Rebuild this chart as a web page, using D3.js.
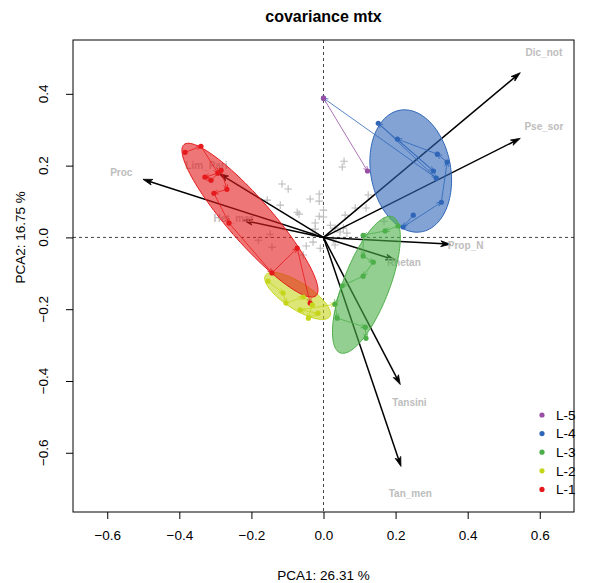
<!DOCTYPE html>
<html>
<head>
<meta charset="utf-8">
<script src="https://cdn.jsdelivr.net/npm/d3@7"></script>
<style>
  body { margin: 0; background: #fff; }
  svg { display: block; font-family: "Liberation Sans", Arial, Helvetica, sans-serif; }
</style>
</head>
<body>
<svg id="chart" width="593" height="583"></svg>
<script>
// ---- axis ticks ----
const xTicks = [-0.6, -0.4, -0.2, 0.0, 0.2, 0.4, 0.6];
const yTicks = [-0.6, -0.4, -0.2, 0.0, 0.2, 0.4];

// ---- variable loadings (arrow tips) ----
const varNames = ["Dic_not", "Pse_sor", "Prop_N", "Rhetan", "Tansini", "Tan_men", "Proc", "Lim_Pari", "Het_mar"];
const varX = [0.546, 0.546, 0.352, 0.199, 0.213, 0.215, -0.501, -0.290, -0.223];
const varY = [0.459, 0.276, -0.019, -0.063, -0.410, -0.638, 0.162, 0.178, 0.048];

// ---- remaining samples (grey crosses) ----
const otherX = [0.057, 0.052, -0.115, -0.098, -0.012, -0.037, -0.012, -0.120, -0.156, -0.073, -0.068, 0.000,
                -0.012, 0.000, -0.023, 0.019, -0.023, -0.031, 0.088, 0.118, 0.124, 0.046, -0.148, -0.181,
                -0.143, -0.029, 0.027, 0.032, 0.055, 0.032, 0.065, 0.168, -0.009, -0.056, 0.060, -0.048];
const otherY = [0.212, 0.196, 0.149, 0.135, 0.121, 0.107, 0.101, 0.090, 0.104, 0.070, 0.065, 0.076,
                0.059, 0.057, 0.040, 0.034, 0.023, 0.012, 0.082, 0.082, 0.118, 0.015, 0.009, -0.008,
                -0.027, -0.013, -0.007, 0.026, 0.026, -0.021, 0.012, 0.045, -0.030, -0.049, 0.062, -0.024];

// ---- groups ----
const groupNames = ["L-1", "L-2", "L-3", "L-4", "L-5"];
const groupColors = ["#E41A1C", "#C5D61A", "#4DAF4A", "#2F66B8", "#984EA3"];

const l1X = [-0.384, -0.340, -0.293, -0.329, -0.312, -0.284, -0.268, -0.304, -0.262, -0.143, -0.073, -0.037];
const l1Y = [0.237, 0.254, 0.179, 0.168, 0.159, 0.187, 0.134, 0.123, 0.040, -0.099, -0.030, -0.183];
const l2X = [-0.154, -0.112, -0.104, -0.056, -0.031, -0.042, -0.015, -0.065, 0.032];
const l2Y = [-0.122, -0.155, -0.183, -0.166, -0.188, -0.225, -0.211, -0.202, -0.186];
const l3X = [0.207, 0.171, 0.110, 0.110, 0.138, 0.110, 0.052, 0.032, 0.038, 0.116, 0.118];
const l3Y = [0.032, 0.018, 0.006, -0.052, -0.069, -0.108, -0.135, -0.186, -0.225, -0.250, -0.281];
const l4X = [0.249, 0.221, 0.327, 0.343, 0.316, 0.205, 0.305, 0.152, 0.313, 0.000];
const l4Y = [0.062, 0.029, 0.098, 0.210, 0.232, 0.274, 0.185, 0.318, 0.165, 0.388];
const l5X = [0.000, 0.122];
const l5Y = [0.388, 0.185];

// ellipse parameters per group: centre, semi-axes, rotation (degrees)
const ellCX = [-0.204, -0.072, 0.119, 0.242, null];
const ellCY = [0.048, -0.163, -0.132, 0.185, null];
const ellA  = [0.279, 0.106, 0.203, 0.172, null];
const ellB  = [0.061, 0.037, 0.064, 0.111, null];
const ellAngle = [-49, -33, 69, 100, null];

const groups = [
  { xs: l1X, ys: l1Y }, { xs: l2X, ys: l2Y }, { xs: l3X, ys: l3Y },
  { xs: l4X, ys: l4Y }, { xs: l5X, ys: l5Y }
].map((g, i) => ({ ...g, name: groupNames[i], color: groupColors[i],
  ell: ellCX[i] === null ? null : { cx: ellCX[i], cy: ellCY[i], a: ellA[i], b: ellB[i], ang: ellAngle[i] } }));

// ---- layout ----
const svg = d3.select("#chart");
const pLeft = 73, pRight = 574, pTop = 40, pBottom = 512;
const x = d3.scaleLinear().domain([-0.695, 0.695]).range([pLeft, pRight]);
const y = d3.scaleLinear().domain([-0.765, 0.55]).range([pBottom, pTop]);

svg.append("defs").append("clipPath").attr("id", "plotclip")
  .append("rect").attr("x", pLeft).attr("y", pTop).attr("width", pRight - pLeft).attr("height", pBottom - pTop);

const plot = svg.append("g").attr("clip-path", "url(#plotclip)");

// reference lines through the origin
plot.append("line").attr("x1", x(0)).attr("x2", x(0)).attr("y1", pTop).attr("y2", pBottom)
  .attr("stroke", "#444").attr("stroke-dasharray", "3,3").attr("stroke-width", 1);
plot.append("line").attr("x1", pLeft).attr("x2", pRight).attr("y1", y(0)).attr("y2", y(0))
  .attr("stroke", "#444").attr("stroke-dasharray", "3,3").attr("stroke-width", 1);

// grey crosses
const cs = 3.8;
plot.append("g").selectAll("path").data(d3.range(otherX.length)).join("path")
  .attr("d", i => {
    const px = x(otherX[i]), py = y(otherY[i]);
    return `M${px - cs},${py}H${px + cs}M${px},${py - cs}V${py + cs}`;
  })
  .attr("stroke", "#BBBBBB").attr("stroke-width", 1.1).attr("fill", "none");

// arrowhead helper (pixel coords)
function headPath(x1, y1, x2, y2, len, halfAngle) {
  const ang = Math.atan2(y2 - y1, x2 - x1);
  const a1 = ang + Math.PI - halfAngle, a2 = ang + Math.PI + halfAngle;
  return { p1: [x2 + len * Math.cos(a1), y2 + len * Math.sin(a1)],
           p2: [x2 + len * Math.cos(a2), y2 + len * Math.sin(a2)],
           back: [x2 - len * 0.7 * Math.cos(ang), y2 - len * 0.7 * Math.sin(ang)] };
}

// loading arrows
const arrows = plot.append("g");
varNames.forEach((name, i) => {
  const x1 = x(0), y1 = y(0), x2 = x(varX[i]), y2 = y(varY[i]);
  const h = headPath(x1, y1, x2, y2, 10, 0.3);
  arrows.append("line").attr("x1", x1).attr("y1", y1).attr("x2", h.back[0]).attr("y2", h.back[1])
    .attr("stroke", "#000").attr("stroke-width", 1.5);
  arrows.append("path")
    .attr("d", `M${x2},${y2}L${h.p1[0]},${h.p1[1]}L${h.back[0]},${h.back[1]}L${h.p2[0]},${h.p2[1]}Z`)
    .attr("fill", "#000").attr("stroke", "#000").attr("stroke-width", 0.8);
  arrows.append("text")
    .attr("x", x(varX[i] * 1.12)).attr("y", y(varY[i] * 1.12))
    .attr("dy", "0.35em").attr("text-anchor", "middle")
    .attr("font-size", 10).attr("font-weight", "bold").attr("fill", "#BDBDBD")
    .text(name);
});

// confidence ellipses, drawn from L-5 down to L-1
const ellLayer = plot.append("g");
groups.slice().reverse().forEach(g => {
  if (!g.ell) return;
  const e = g.ell, th = e.ang * Math.PI / 180;
  const pts = d3.range(0, 361, 3).map(t => {
    const r = t * Math.PI / 180;
    const u = e.a * Math.cos(r), v = e.b * Math.sin(r);
    return [x(e.cx + u * Math.cos(th) - v * Math.sin(th)), y(e.cy + u * Math.sin(th) + v * Math.cos(th))];
  });
  ellLayer.append("path").attr("d", d3.line()(pts) + "Z")
    .attr("fill", g.color).attr("fill-opacity", 0.6)
    .attr("stroke", g.color).attr("stroke-width", 1);
});

// trajectories between successive samples
const trajLayer = plot.append("g");
groups.forEach(g => {
  for (let i = 0; i + 1 < g.xs.length; i++) {
    const x1 = x(g.xs[i]), y1 = y(g.ys[i]), x2 = x(g.xs[i + 1]), y2 = y(g.ys[i + 1]);
    const h = headPath(x1, y1, x2, y2, 5, 0.45);
    trajLayer.append("path")
      .attr("d", `M${x1},${y1}L${x2},${y2}M${h.p1[0]},${h.p1[1]}L${x2},${y2}L${h.p2[0]},${h.p2[1]}`)
      .attr("stroke", g.color).attr("stroke-width", 0.8).attr("fill", "none");
  }
});

// sample points
const ptLayer = plot.append("g");
groups.forEach(g => {
  ptLayer.append("g").selectAll("circle").data(d3.range(g.xs.length)).join("circle")
    .attr("cx", i => x(g.xs[i])).attr("cy", i => y(g.ys[i])).attr("r", 2.6)
    .attr("fill", g.color);
});

// frame
svg.append("rect").attr("x", pLeft).attr("y", pTop).attr("width", pRight - pLeft).attr("height", pBottom - pTop)
  .attr("fill", "none").attr("stroke", "#000").attr("stroke-width", 1);

// x axis
const fmt = v => (v < 0 ? "\u2212" : "") + Math.abs(v).toFixed(1);
const xAxis = svg.append("g").attr("transform", `translate(0,${pBottom})`)
  .call(d3.axisBottom(x).tickValues(xTicks).tickSize(7).tickPadding(11).tickFormat(fmt));
xAxis.select(".domain").remove();
xAxis.selectAll("text").attr("font-size", 13.5).attr("font-family", null).attr("fill", "#000");
xAxis.selectAll("line").attr("stroke", "#000");

// y axis (labels parallel to the axis)
const yAxis = svg.append("g").attr("transform", `translate(${pLeft},0)`)
  .call(d3.axisLeft(y).tickValues(yTicks).tickSize(7).tickFormat(""));
yAxis.select(".domain").remove();
yAxis.selectAll("line").attr("stroke", "#000");
svg.append("g").selectAll("text").data(yTicks).join("text")
  .attr("transform", d => `translate(47.5,${y(d)}) rotate(-90)`)
  .attr("text-anchor", "middle").attr("font-size", 13.5).attr("fill", "#000")
  .text(fmt);

// titles
svg.append("text").attr("x", (pLeft + pRight) / 2).attr("y", 22).attr("text-anchor", "middle")
  .attr("font-size", 16).attr("font-weight", "bold").text("covariance mtx");
svg.append("text").attr("x", (pLeft + pRight) / 2).attr("y", 580).attr("text-anchor", "middle")
  .attr("font-size", 13.5).text("PCA1: 26.31 %");
svg.append("text").attr("transform", `translate(25,${y(0)}) rotate(-90)`).attr("text-anchor", "middle")
  .attr("font-size", 13.5).text("PCA2: 16.75 %");

// legend
const legend = svg.append("g");
groups.slice().reverse().forEach((g, i) => {
  const ly = 415 + i * 18.6;
  legend.append("circle").attr("cx", 542).attr("cy", ly).attr("r", 2.6).attr("fill", g.color);
  legend.append("text").attr("x", 556).attr("y", ly).attr("dy", "0.36em")
    .attr("font-size", 13.5).text(g.name);
});
</script>
</body>
</html>
